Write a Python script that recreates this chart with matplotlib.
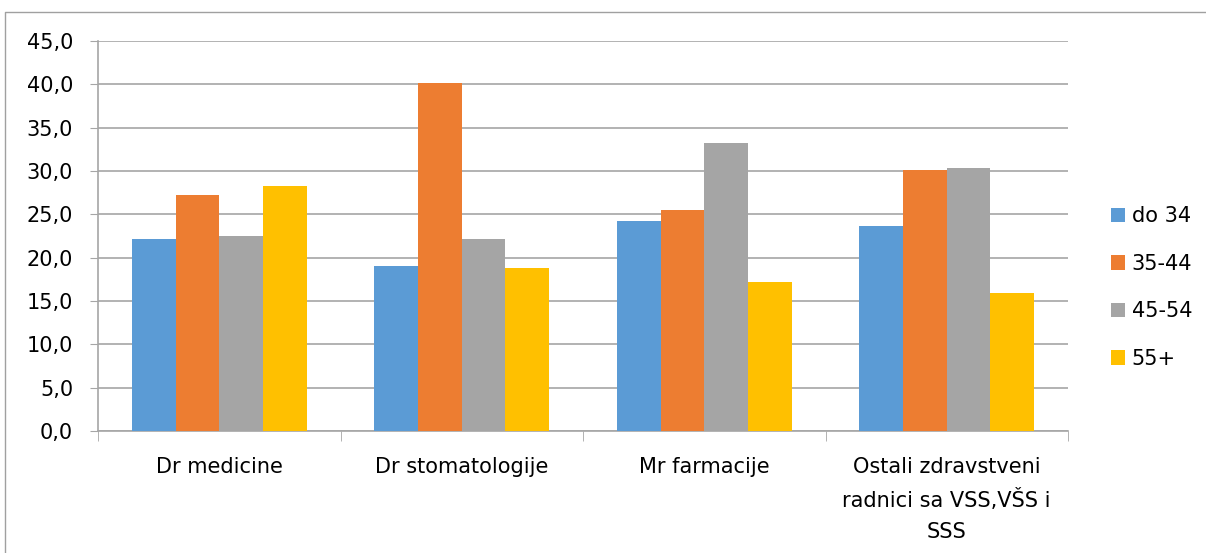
import numpy as np
import matplotlib.pyplot as plt
from matplotlib.lines import Line2D

plt.rcParams['font.family'] = ['DejaVu Sans']

categories = ['Dr medicine', 'Dr stomatologije', 'Mr farmacije',
              'Ostali zdravstveni\nradnici sa VSS,VŠS i\nSSS']
series = ['do 34', '35-44', '45-54', '55+']
do34 = [22.1, 19.0, 24.2, 23.7]
s35_44 = [27.2, 40.1, 25.5, 30.1]
s45_54 = [22.5, 22.1, 33.2, 30.3]
s55 = [28.3, 18.8, 17.2, 15.9]
colors = ['#5B9BD5', '#ED7D31', '#A5A5A5', '#FFC000']

fig = plt.figure(figsize=(12.06, 5.53), dpi=100)
# chart frame: only the left and top edges are visible in the crop
fig.lines.append(Line2D([4.5 / 1206, 4.5 / 1206, 1], [0, 1 - 11.5 / 553, 1 - 11.5 / 553],
                        transform=fig.transFigure, color='#a0a0a0', linewidth=1))
ax = fig.add_axes([98 / 1206, 1 - 431 / 553, 970 / 1206, 390 / 553])

x = np.arange(len(categories))
w = 0.18
for i, (name, vals) in enumerate(zip(series, [do34, s35_44, s45_54, s55])):
    ax.bar(x + (i - 1.5) * w, vals, width=w, color=colors[i], label=name, zorder=3)

ax.set_xlim(-0.5, len(categories) - 0.5)
ax.set_ylim(0, 45)
ax.set_yticks(np.arange(0, 46, 5))
ax.set_yticklabels([f'{v:.1f}'.replace('.', ',') for v in np.arange(0, 46, 5)])
ax.yaxis.grid(True, color='#a6a6a6', linewidth=1.2, zorder=0)
ax.set_axisbelow(True)

ax.set_xticks(x)
ax.set_xticklabels(categories, linespacing=1.7, va='top')
ax.set_xticks(np.arange(-0.5, len(categories), 1), minor=True)
ax.tick_params(axis='x', which='major', length=0, pad=18.5, labelsize=15)
ax.tick_params(axis='x', which='minor', length=7, color='#a6a6a6', direction='out')
ax.tick_params(axis='y', length=6, color='#a6a6a6', labelsize=15, pad=12)

for s in ['top', 'right']:
    ax.spines[s].set_visible(False)
for s in ['left', 'bottom']:
    ax.spines[s].set_color('#a6a6a6')
    ax.spines[s].set_linewidth(1.2)

ax.legend(loc='center left', bbox_to_anchor=(1092 / 1206, 0.48),
          bbox_transform=fig.transFigure, frameon=False,
          fontsize=15, handlelength=0.67, handleheight=0.67, labelspacing=1.32,
          handletextpad=0.34)

fig.savefig('out.png', dpi=100)
